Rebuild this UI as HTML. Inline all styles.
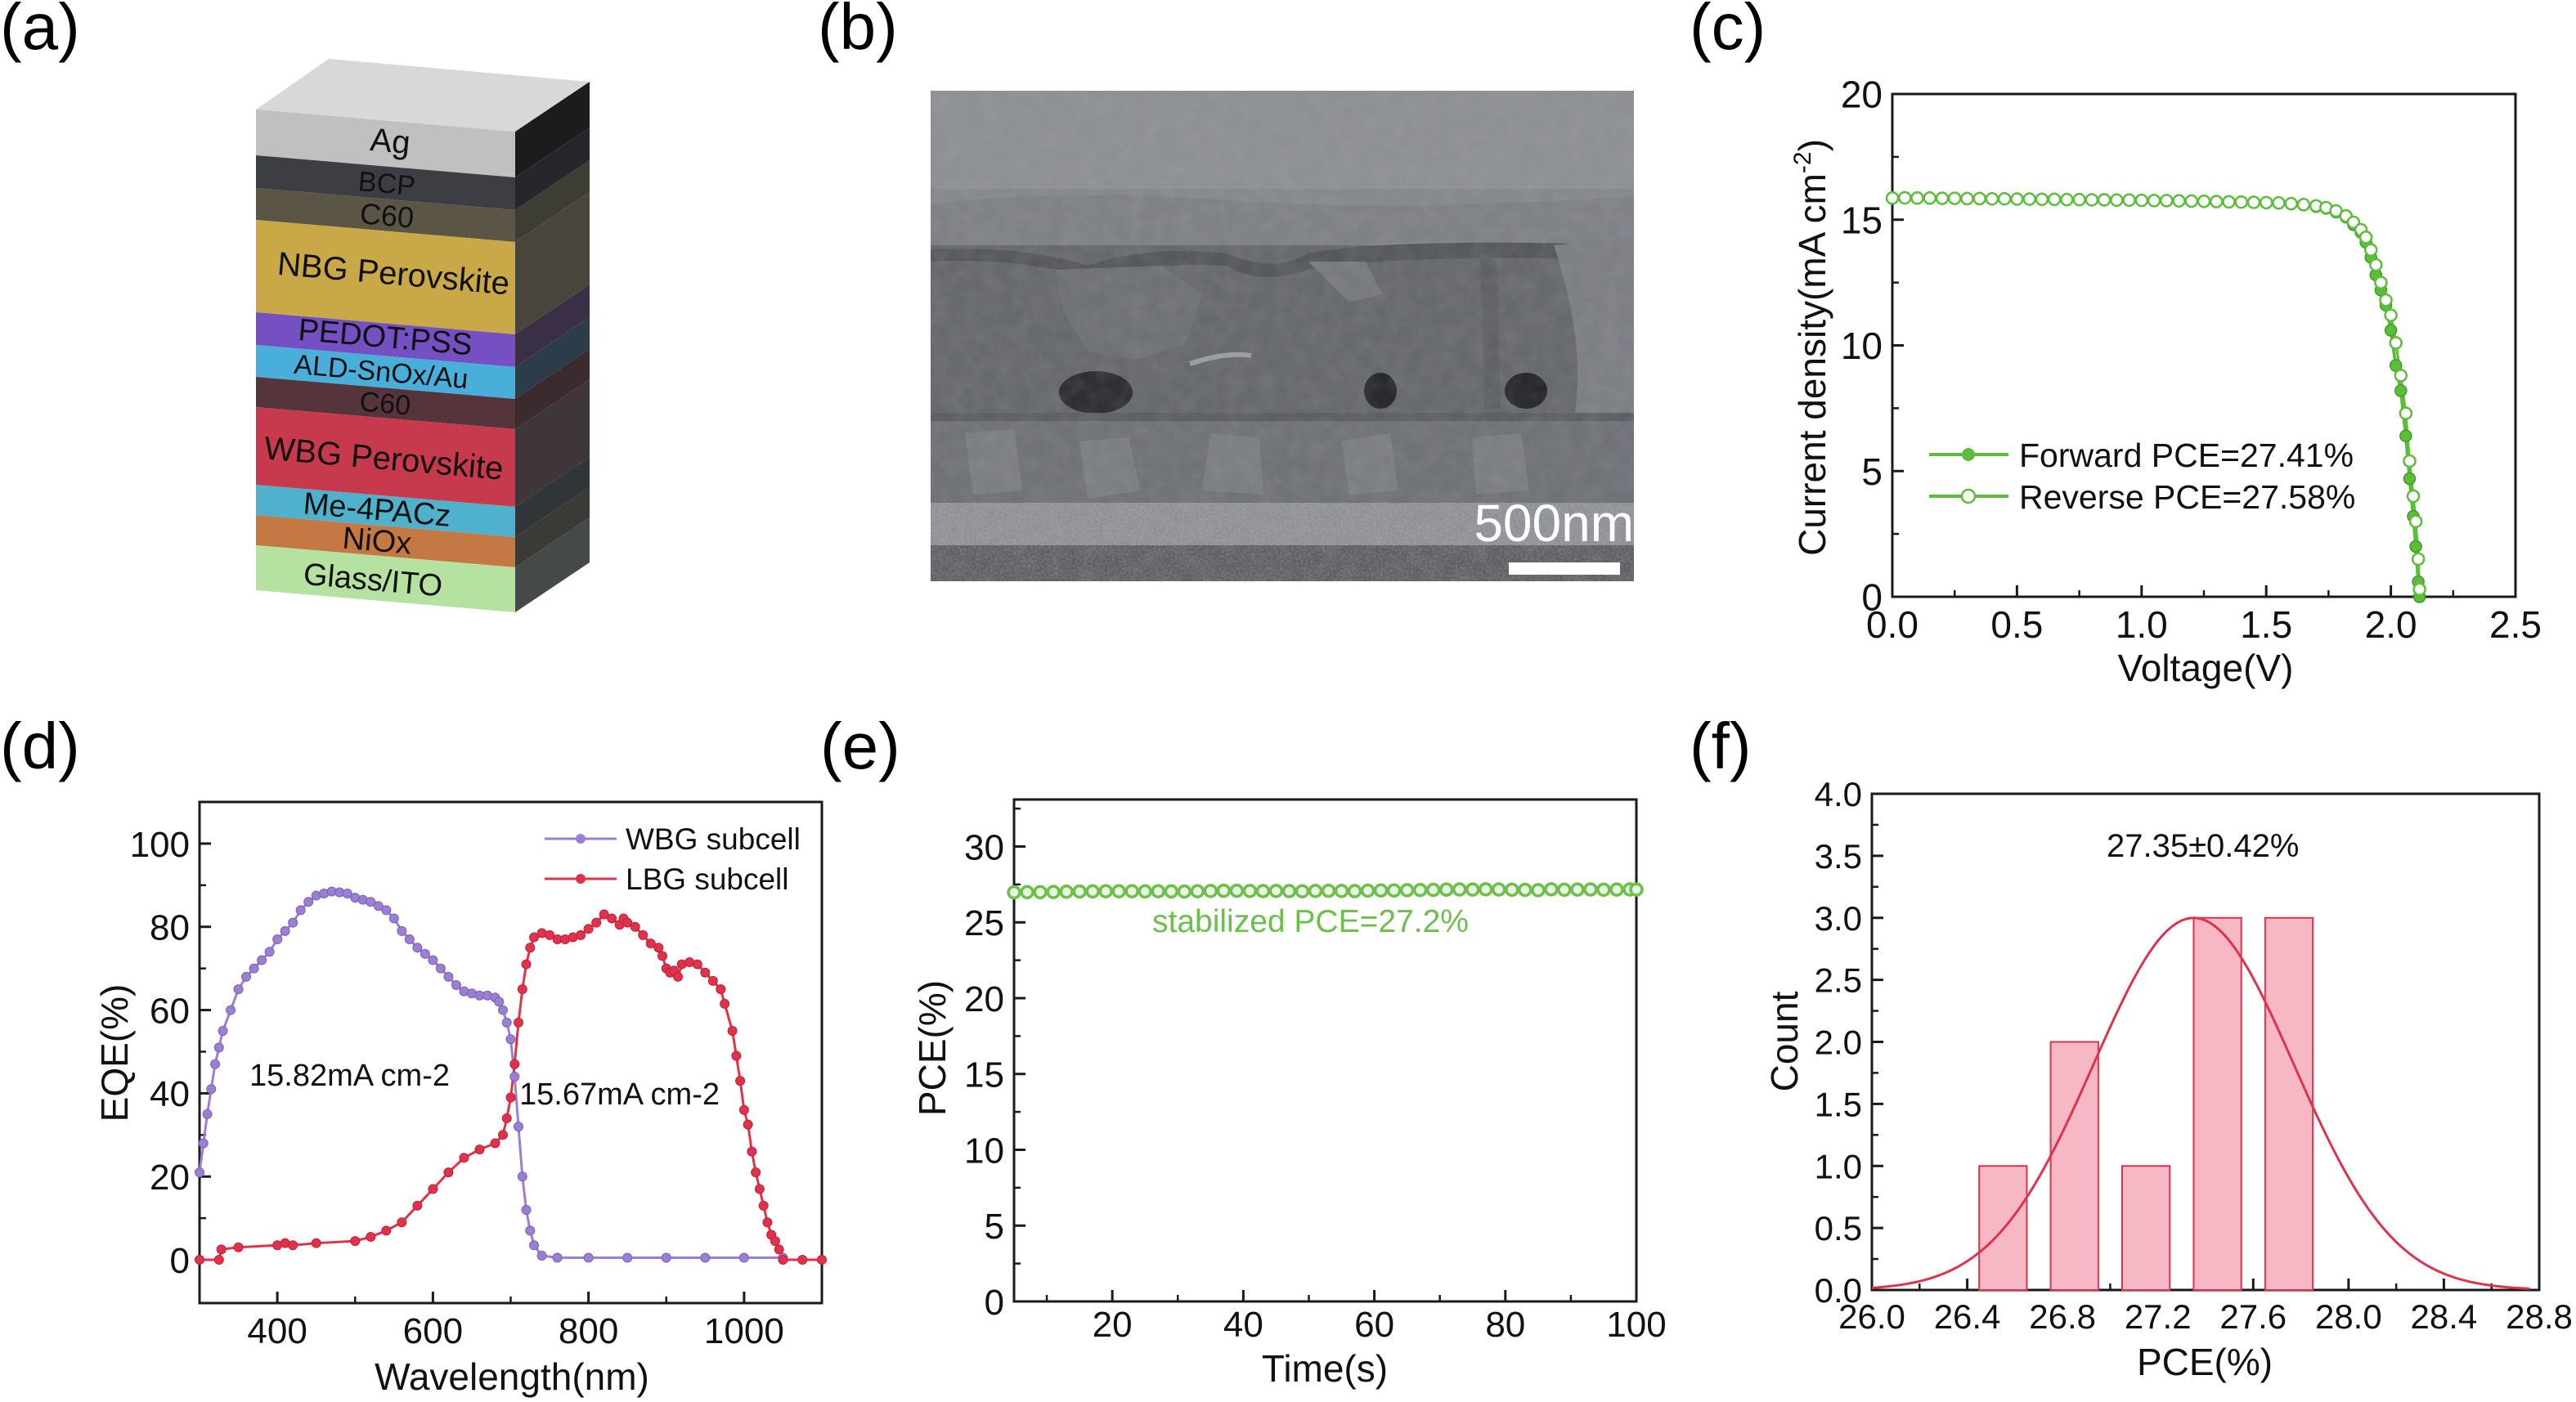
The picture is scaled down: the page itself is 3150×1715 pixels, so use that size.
<!DOCTYPE html>
<html><head><meta charset="utf-8">
<style>
html,body{margin:0;padding:0;background:#fff;}
svg{display:block;font-family:"Liberation Sans",Arial,sans-serif;}
</style></head>
<body>
<svg id="fig" xmlns="http://www.w3.org/2000/svg" width="3150" height="1715" viewBox="0 0 3150 1715">
<defs>
<filter id="grain" x="0" y="0" width="100%" height="100%">
<feTurbulence type="fractalNoise" baseFrequency="0.05" numOctaves="3" seed="4"/>
<feColorMatrix type="matrix" values="0 0 0 0 0.5  0 0 0 0 0.5  0 0 0 0 0.52  0 0 0 1.2 -0.35"/>
</filter>
<filter id="fine" x="0" y="0" width="100%" height="100%">
<feTurbulence type="fractalNoise" baseFrequency="0.35" numOctaves="2" seed="7"/>
<feColorMatrix type="matrix" values="0 0 0 0 0.6  0 0 0 0 0.6  0 0 0 0 0.62  0 0 0 1.4 -0.5"/>
</filter>
<clipPath id="semclip"><rect x="1138" y="111" width="860" height="600"/></clipPath>
</defs>

<!-- panel labels -->
<text x="0" y="60" font-size="80">(a)</text>
<text x="1000" y="60" font-size="80">(b)</text>
<text x="2066" y="60" font-size="80">(c)</text>
<text x="0" y="940" font-size="80">(d)</text>
<text x="1003" y="940" font-size="80">(e)</text>
<text x="2066" y="940" font-size="80">(f)</text>

<!-- panel b SEM -->
<g clip-path="url(#semclip)">
<rect x="1138" y="111" width="860" height="600" fill="#85888c"/>
<rect x="1138" y="111" width="860" height="120" fill="#8d9094"/>
<path d="M1138,250 Q1300,230 1500,245 T1998,240 L1998,300 Q1700,290 1600,305 Q1560,330 1500,305 Q1400,300 1330,320 Q1250,300 1138,300 Z" fill="#7e8186"/>
<rect x="1138" y="300" width="860" height="210" fill="#66696e"/>
<path d="M1138,305 Q1250,300 1330,325 Q1400,300 1500,310 Q1560,335 1600,310 Q1700,290 1998,300 L1998,318 Q1700,310 1600,330 Q1540,350 1500,325 Q1400,320 1330,340 Q1250,315 1138,320 Z" fill="#55585d"/>
<path d="M1290,330 L1420,325 L1470,360 L1450,420 L1390,440 L1330,430 L1300,380 Z" fill="#6e7176"/>
<path d="M1600,320 L1670,320 L1690,360 L1650,370 Z" fill="#76797e"/>
<path d="M1810,310 L1830,320 L1835,500 L1815,500 Z" fill="#5e6166"/>
<path d="M1900,300 L1998,290 L1998,510 L1925,510 Q1940,420 1900,300 Z" fill="#7c7f84"/>
<path d="M1455,445 Q1500,430 1530,435" stroke="#9a9da1" stroke-width="6" fill="none"/>
<ellipse cx="1340" cy="480" rx="45" ry="26" fill="#2d2f33"/>
<ellipse cx="1688" cy="478" rx="20" ry="22" fill="#26282b"/>
<ellipse cx="1866" cy="478" rx="26" ry="22" fill="#26282b"/>
<rect x="1138" y="505" width="860" height="12" fill="#5c5f64"/>
<rect x="1138" y="515" width="860" height="100" fill="#6f7277"/>
<path d="M1180,530 L1240,525 L1250,600 L1190,605 Z M1320,540 L1380,535 L1395,600 L1330,610 Z M1480,530 L1540,535 L1545,605 L1470,600 Z M1640,540 L1700,530 L1710,600 L1650,605 Z M1800,535 L1860,530 L1870,600 L1805,605 Z" fill="#7b7e83"/>
<rect x="1138" y="615" width="860" height="52" fill="#8d9094"/>
<rect x="1138" y="667" width="860" height="44" fill="#5b5e62"/>
<rect x="1138" y="111" width="860" height="600" filter="url(#grain)" opacity="0.18"/>
<rect x="1138" y="615" width="860" height="96" filter="url(#fine)" opacity="0.35"/>
</g>
<text x="1998" y="662" font-size="64" fill="#fff" text-anchor="end">500nm</text>
<rect x="1845" y="688" width="136" height="15" fill="#fff"/>

<g id="stack"></g>
<g id="pc"></g>
<g id="pd"></g>
<g id="pe"></g>
<g id="pf"></g>
</svg>

<script>
// ---------- data ----------
// (c) J-V
const jvVoltage = [0,0.05,0.1,0.15,0.2,0.25,0.3,0.35,0.4,0.45,0.5,0.55,0.6,0.65,0.7,0.75,0.8,0.85,0.9,0.95,1.0,1.05,1.1,1.15,1.2,1.25,1.3,1.35,1.4,1.45,1.5,
 1.55,1.6,1.65,1.7,1.74,1.78,1.82,1.85,1.88,1.9,1.92,1.94,1.96,1.98,2.0,2.02,2.04,2.06,2.075,2.09,2.1,2.11,2.115];
const jvForward = [15.88,15.88,15.87,15.87,15.86,15.86,15.85,15.85,15.84,15.84,15.83,15.83,15.82,15.82,15.81,15.81,15.80,15.80,15.79,15.79,15.78,15.77,15.77,15.76,15.75,15.74,15.73,15.72,15.71,15.70,15.68,
 15.65,15.62,15.58,15.52,15.45,15.3,15.1,14.8,14.5,14.1,13.5,12.8,12.2,11.6,10.6,9.2,8.2,6.4,4.7,3.2,2.0,0.6,0];
const jvReverse = [15.86,15.87,15.86,15.86,15.85,15.85,15.84,15.84,15.83,15.83,15.82,15.82,15.81,15.81,15.80,15.80,15.79,15.79,15.78,15.78,15.77,15.76,15.76,15.75,15.74,15.73,15.72,15.71,15.70,15.69,15.68,
 15.67,15.64,15.6,15.55,15.48,15.35,15.15,14.9,14.6,14.3,13.8,13.2,12.5,11.8,11.2,10.1,8.8,7.3,5.4,4.0,3.0,1.5,0.3];
const jvXTicks = [0,0.5,1.0,1.5,2.0,2.5];
const jvYTicks = [0,5,10,15,20];

// (d) EQE
const wbgWl = [300,305,310,315,320,325,330,340,350,360,370,380,390,400,410,420,430,440,450,460,470,480,490,500,510,520,530,540,550,560,570,580,590,600,610,620,630,640,650,660,670,680,685,690,695,700,705,710,715,720,725,730,740,760,800,850,900,950,1000,1050];
const wbgEqe = [21,28,35,41,47,51,55,60,65,68,70,72,74,77,79,81,84,86,87.5,88,88.5,88.3,88,87,86.5,86,85,84,82,79,77,75,73.5,72,70,68,66,64.5,64,63.5,63.5,63,62,60,57,53,44,32,20,12,7,3.5,1,0.5,0.5,0.5,0.5,0.5,0.5,0.5];
const lbgWl = [300,325,328,350,400,410,420,450,500,520,540,560,580,600,620,640,660,680,690,695,700,705,710,715,720,725,730,740,750,760,770,780,790,800,810,820,830,840,845,850,860,870,880,890,895,900,905,910,915,920,930,940,950,960,970,975,985,990,995,1000,1005,1010,1015,1020,1025,1030,1035,1040,1045,1050,1075,1100];
const lbgEqe = [0,0,2.5,3,3.5,4,3.5,4,4.5,5.5,7,9,13,17,21,24.5,26.5,28,30,34,39,47,57,65,71,75,77.5,78.5,78,77,77,77.5,78,79.5,81,83,82,80.5,82,81,80,78,76,75,73,70,69,69.5,68,71,71.5,71,69,67,65,61.5,55,49,43,36,32.5,26,21,17,13,9,6,4.5,2.5,0,0,0];
const eqeXTicks = [400,600,800,1000];
const eqeYTicks = [0,20,40,60,80,100];

// (e) stabilized PCE
const stabTime = [5,7,9,11,13,15,17,19,21,23,25,27,29,31,33,35,37,39,41,43,45,47,49,51,53,55,57,59,61,63,65,67,69,71,73,75,77,79,81,83,85,87,89,91,93,95,97,99,100];
const stabPce = [26.98,26.99,26.99,27.0,27.02,27.03,27.04,27.05,27.05,27.05,27.04,27.05,27.04,27.03,27.05,27.07,27.08,27.08,27.07,27.06,27.07,27.06,27.05,27.07,27.08,27.07,27.06,27.09,27.1,27.1,27.12,27.13,27.14,27.16,27.17,27.16,27.18,27.17,27.15,27.14,27.12,27.18,27.15,27.16,27.17,27.15,27.16,27.17,27.16];
const stabXTicks = [20,40,60,80,100];
const stabYTicks = [0,5,10,15,20,25,30];

// (f) histogram
const binLeft = [26.45,26.75,27.05,27.35,27.65];
const binRight = [26.65,26.95,27.25,27.55,27.85];
const binCount = [1,2,1,3,3];
const fitMean = [27.35];
const fitSigma = [0.42];
const fitPeak = [3.0];
const histXTicks = [26.0,26.4,26.8,27.2,27.6,28.0,28.4,28.8];
const histYTicks = [0,0.5,1.0,1.5,2.0,2.5,3.0,3.5,4.0];

// (a) stack layers
const layerNames = ["Ag","BCP","C60","NBG Perovskite","PEDOT:PSS","ALD-SnOx/Au","C60","WBG Perovskite","Me-4PACz","NiOx","Glass/ITO"];

// ---------- helpers ----------
const NS = "http://www.w3.org/2000/svg";
function mk(tag, attrs, parent){
  const e = document.createElementNS(NS, tag);
  for (const k in attrs) e.setAttribute(k, attrs[k]);
  parent.appendChild(e);
  return e;
}
function tx(str, attrs, parent){
  const e = mk('text', attrs, parent);
  e.textContent = str;
  return e;
}
function scale(d0,d1,r0,r1){ return v => r0 + (v-d0)/(d1-d0)*(r1-r0); }

function frameAxes(g, P, xTicks, yTicks, xFmt, yFmt, fs, xMinorStep, yMinorStep){
  const sx = scale(P.xmin,P.xmax,P.x0,P.x1), sy = scale(P.ymin,P.ymax,P.y1,P.y0);
  const fr = mk('rect',{x:P.x0,y:P.y0,width:P.x1-P.x0,height:P.y1-P.y0,fill:'none',stroke:'#1a1a1a','stroke-width':3},g);
  
  
  for (const v of xTicks){
    const t = mk('line',{x1:sx(v),x2:sx(v),y1:P.y1,y2:P.y1-14,stroke:'#1a1a1a','stroke-width':3},g);
    
    
    const l = tx(xFmt(v),{x:sx(v),y:P.y1+P.xlab,'font-size':fs,'text-anchor':'middle',fill:'#111'},g);
    
    
    const m = sx(v)+ (sx(xMinorStep)-sx(0));
    if (m < P.x1-2){
      const mt = mk('line',{x1:m,x2:m,y1:P.y1,y2:P.y1-8,stroke:'#1a1a1a','stroke-width':2.5},g);
      
      
    }
    const m2 = sx(v) - (sx(xMinorStep)-sx(0));
    if (v===xTicks[0] && m2 > P.x0+2){
      const mt2 = mk('line',{x1:m2,x2:m2,y1:P.y1,y2:P.y1-8,stroke:'#1a1a1a','stroke-width':2.5},g);
      
      
    }
  }
  for (const v of yTicks){
    const t = mk('line',{x1:P.x0,x2:P.x0+14,y1:sy(v),y2:sy(v),stroke:'#1a1a1a','stroke-width':3},g);
    
    
    const l = tx(yFmt(v),{x:P.x0-12,y:sy(v)+fs*0.36,'font-size':fs,'text-anchor':'end',fill:'#111'},g);
    
    
    const m = sy(v) - (sy(0)-sy(yMinorStep));
    if (m > P.y0+2){
      const mt = mk('line',{x1:P.x0,x2:P.x0+8,y1:m,y2:m,stroke:'#1a1a1a','stroke-width':2.5},g);
      
      
    }
  }
  return [sx,sy];
}

// ---------- (a) stack ----------
(function(){
  const g = document.getElementById('stack');
  const X0=313, X1=630, BX=721, DY=27, SDY=-61;
  const bounds = [134,190,230,269,382,422,461,498,593,630,667,722];
  const front = ['#c0c0c0','#3d3e43','#5a5545','#c9a847','#7450c2','#4aaedb','#55343b','#c73a4d','#4fb1cc','#c47843','#b5e2a0'];
  const side  = ['#1c1c1c','#26272b','#3e3d35','#47453c','#3a2f45','#2c3c48','#3b2a2e','#3f363a','#303538','#3a3b36','#454a49'];
  const top = mk('polygon',{points:`${X0},134 402,72 ${BX},100 ${X1},161`,fill:'#d8d8d8'},g);
  
  
  for (let i=0;i<layerNames.length;i++){
    const a=bounds[i], b=bounds[i+1];
    const f = mk('polygon',{points:`${X0},${a} ${X1},${a+DY} ${X1},${b+DY} ${X0},${b}`,fill:front[i]},g);
    
    
    const s = mk('polygon',{points:`${X1},${a+DY} ${BX},${a+DY+SDY} ${BX},${b+DY+SDY} ${X1},${b+DY}`,fill:side[i]},g);
    
    
  }
  const lab = [[476,186,40],[472,236,34],[472,276,36],[480,348,40],[470,425,38],[465,466,34],[470,505,34],[468,574,40],[460,636,38],[460,674,38],[455,722,38]];
  for (let i=0;i<layerNames.length;i++){
    const [x,y,fs]=lab[i];
    const t = tx(layerNames[i],{x:x,y:y,'font-size':fs,'text-anchor':'middle',fill:'#111',transform:`rotate(5 ${x} ${y})`},g);
    
    
  }
})();

// ---------- (c) J-V ----------
(function(){
  const g = document.getElementById('pc');
  const P = {x0:2314,x1:3076,y0:115,y1:730,xmin:0,xmax:2.5,ymin:0,ymax:20,xlab:50};
  const [sx,sy] = frameAxes(g,P,jvXTicks,jvYTicks,v=>v.toFixed(1),v=>String(v),46,0.25,2.5);
  const col='#5cbd3a';
  const pf = jvVoltage.map((v,i)=>`${sx(v)},${sy(jvForward[i])}`).join(' ');
  const pr = jvVoltage.map((v,i)=>`${sx(v)},${sy(jvReverse[i])}`).join(' ');
  const l1 = mk('polyline',{points:pf,fill:'none',stroke:col,'stroke-width':4},g);
  
  
  const l2 = mk('polyline',{points:pr,fill:'none',stroke:col,'stroke-width':3},g);
  
  
  jvVoltage.forEach((v,i)=>{
    const c = mk('circle',{cx:sx(v),cy:sy(jvForward[i]),r:7,fill:col,stroke:'#3f9a28','stroke-width':1.5},g);
    
    
  });
  jvVoltage.forEach((v,i)=>{
    const c = mk('circle',{cx:sx(v),cy:sy(jvReverse[i]),r:7,fill:'#fff',stroke:col,'stroke-width':2.5},g);
    
    
  });
  // legend
  const lg = mk('g',{},g);
  
  
  const a1 = mk('line',{x1:2359,x2:2456,y1:556,y2:556,stroke:col,'stroke-width':4},lg);
  
  
  const m1 = mk('circle',{cx:2407,cy:556,r:8,fill:col},lg);
  
  
  const t1 = tx('Forward PCE=27.41%',{x:2469,y:571,'font-size':41,fill:'#111'},lg);
  
  
  const a2 = mk('line',{x1:2359,x2:2456,y1:607,y2:607,stroke:col,'stroke-width':4},lg);
  
  
  const m2 = mk('circle',{cx:2407,cy:607,r:8,fill:'#fff',stroke:col,'stroke-width':2.5},lg);
  
  
  const t2 = tx('Reverse PCE=27.58%',{x:2469,y:622,'font-size':41,fill:'#111'},lg);
  
  
  const xt = tx('Voltage(V)',{x:2697,y:833,'font-size':46,'text-anchor':'middle',fill:'#111'},g);
  
  
  const yt = mk('text',{x:2232,y:425,'font-size':46,'text-anchor':'middle',fill:'#111',transform:'rotate(-90 2232 425)'},g);
  
  
  yt.appendChild(document.createTextNode('Current density(mA cm'));
  const sup = mk('tspan',{'font-size':30,dy:-18},yt);
  sup.textContent='-2';
  const cl = mk('tspan',{'font-size':46,dy:18},yt);
  cl.textContent=')';
})();

// ---------- (d) EQE ----------
(function(){
  const g = document.getElementById('pd');
  const P = {x0:244,x1:1005,y0:981,y1:1594,xmin:300,xmax:1100,ymin:-10.4,ymax:110,xlab:49};
  const [sx,sy] = frameAxes(g,P,eqeXTicks,eqeYTicks,v=>String(v),v=>String(v),44,100,10);
  const wc='#9a7fd3', rc='#e1324c';
  const lw = mk('polyline',{points:wbgWl.map((w,i)=>`${sx(w)},${sy(wbgEqe[i])}`).join(' '),fill:'none',stroke:wc,'stroke-width':3},g);
  
  
  const lr = mk('polyline',{points:lbgWl.map((w,i)=>`${sx(w)},${sy(lbgEqe[i])}`).join(' '),fill:'none',stroke:rc,'stroke-width':3},g);
  
  
  wbgWl.forEach((w,i)=>{
    const c = mk('circle',{cx:sx(w),cy:sy(wbgEqe[i]),r:5.5,fill:wc,stroke:'#7d60b8','stroke-width':1},g);
    
    
  });
  lbgWl.forEach((w,i)=>{
    const c = mk('circle',{cx:sx(w),cy:sy(lbgEqe[i]),r:5.5,fill:rc,stroke:'#c0213a','stroke-width':1},g);
    
    
  });
  const lg = mk('g',{},g);
  
  
  const a1 = mk('line',{x1:666,x2:754,y1:1026,y2:1026,stroke:wc,'stroke-width':3},lg);
  
  
  const m1 = mk('circle',{cx:710,cy:1026,r:6,fill:wc},lg);
  
  
  const t1 = tx('WBG subcell',{x:765,y:1039,'font-size':37,fill:'#111'},lg);
  
  
  const a2 = mk('line',{x1:666,x2:754,y1:1075,y2:1075,stroke:rc,'stroke-width':3},lg);
  
  
  const m2 = mk('circle',{cx:710,cy:1075,r:6,fill:rc},lg);
  
  
  const t2 = tx('LBG subcell',{x:765,y:1088,'font-size':37,fill:'#111'},lg);
  
  
  const n1 = tx('15.82mA cm-2',{x:305,y:1328,'font-size':38,fill:'#111'},g);
  
  
  const n2 = tx('15.67mA cm-2',{x:635,y:1351,'font-size':38,fill:'#111'},g);
  
  
  const xt = tx('Wavelength(nm)',{x:626,y:1700,'font-size':46,'text-anchor':'middle',fill:'#111'},g);
  
  
  const yt = tx('EQE(%)',{x:156,y:1288,'font-size':46,'text-anchor':'middle',fill:'#111',transform:'rotate(-90 156 1288)'},g);
  
  
})();

// ---------- (e) stabilized ----------
(function(){
  const g = document.getElementById('pe');
  const P = {x0:1240,x1:2001,y0:978,y1:1592,xmin:5,xmax:100,ymin:0,ymax:33.1,xlab:43};
  const [sx,sy] = frameAxes(g,P,stabXTicks,stabYTicks,v=>String(v),v=>String(v),44,10,2.5);
  const col='#6cc04a';
  const l = mk('polyline',{points:stabTime.map((t,i)=>`${sx(t)},${sy(stabPce[i])}`).join(' '),fill:'none',stroke:col,'stroke-width':6},g);
  
  
  stabTime.forEach((t,i)=>{
    const c = mk('circle',{cx:sx(t),cy:sy(stabPce[i]),r:7,fill:'#e9f6e2',stroke:col,'stroke-width':3.5},g);
    
    
  });
  const a = tx('stabilized PCE=27.2%',{x:1409,y:1140,'font-size':39,fill:col},g);
  
  
  const xt = tx('Time(s)',{x:1620,y:1690,'font-size':46,'text-anchor':'middle',fill:'#111'},g);
  
  
  const yt = tx('PCE(%)',{x:1156,y:1282,'font-size':46,'text-anchor':'middle',fill:'#111',transform:'rotate(-90 1156 1282)'},g);
  
  
})();

// ---------- (f) histogram ----------
(function(){
  const g = document.getElementById('pf');
  const P = {x0:2289,x1:3105,y0:971,y1:1578,xmin:26.0,xmax:28.8,ymin:0,ymax:4.0,xlab:47};
  const [sx,sy] = frameAxes(g,P,histXTicks,histYTicks,v=>v.toFixed(1),v=>v.toFixed(1),42,0.2,0.25);
  binCount.forEach((c,i)=>{
    const r = mk('rect',{x:sx(binLeft[i]),y:sy(c),width:sx(binRight[i])-sx(binLeft[i]),height:sy(0)-sy(c),fill:'#f7b8c5',stroke:'#e0334b','stroke-width':2},g);
    
    
  });
  const pts=[];
  for (let x=26.0; x<=28.76; x+=0.02){
    const y = fitPeak[0]*Math.exp(-0.5*Math.pow((x-fitMean[0])/fitSigma[0],2));
    pts.push(`${sx(x)},${sy(y)}`);
  }
  const fc = mk('polyline',{points:pts.join(' '),fill:'none',stroke:'#e0334b','stroke-width':3},g);
  
  
  const a = tx('27.35±0.42%',{x:2576,y:1048,'font-size':40,fill:'#111'},g);
  
  
  const xt = tx('PCE(%)',{x:2696,y:1682,'font-size':46,'text-anchor':'middle',fill:'#111'},g);
  
  
  const yt = tx('Count',{x:2198,y:1274,'font-size':46,'text-anchor':'middle',fill:'#111',transform:'rotate(-90 2198 1274)'},g);
  
  
})();
</script>
</body></html>
